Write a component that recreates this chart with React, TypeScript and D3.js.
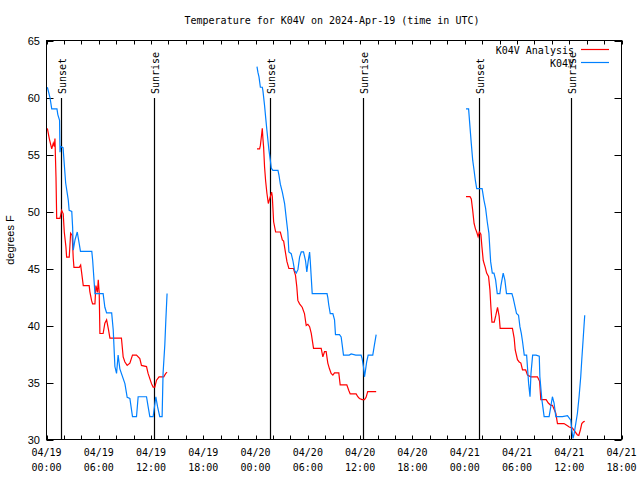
import React from "react";
import * as d3 from "d3";

const title = "Temperature for K04V on 2024-Apr-19 (time in UTC)";
const yLabel = "degrees F";
const seriesNames = ["K04V Analysis", "K04V"];
const seriesColors = ["#ff0000", "#0080ff"];
const yTicks = [30, 35, 40, 45, 50, 55, 60, 65];
const startTime = Date.UTC(2024, 3, 19, 0, 0);
const endTime = Date.UTC(2024, 3, 21, 18, 0);

// hours since 2024-04-19 00:00 UTC
const sunsetHours = [1.63, 25.66, 49.68];
const sunriseHours = [12.35, 36.3, 60.25];

// [hours since start, temperature F]
const analysisSeg1: [number, number][] = [
  [0.1, 57.3], [0.32, 56.4], [0.6, 55.5], [0.78, 56.0], [0.9, 55.7], [0.97, 56.4], [1.09, 53.0], [1.17, 49.4],
  [1.55, 49.4], [1.74, 50.1], [1.92, 49.8], [2.04, 48.2], [2.23, 46.9], [2.31, 46.0], [2.61, 46.0], [2.77, 48.1],
  [2.95, 47.9], [3.07, 45.9], [3.15, 45.1], [3.76, 45.1], [3.92, 45.3], [4.04, 44.6], [4.22, 43.5], [4.9, 43.5],
  [4.98, 42.95], [5.17, 42.2], [5.29, 41.9], [5.56, 41.9], [5.67, 43.5], [5.85, 42.9], [5.94, 44.0], [6.05, 42.9],
  [6.13, 39.3], [6.5, 39.3], [6.7, 40.2], [6.9, 40.5], [7.1, 39.7], [7.28, 38.9], [8.6, 38.9], [8.8, 37.25],
  [9.0, 36.8], [9.26, 36.5], [9.57, 36.7], [9.87, 37.4], [10.33, 37.4], [10.71, 37.1], [10.9, 36.5], [11.48, 36.4],
  [11.66, 35.8], [12.05, 34.9], [12.24, 34.6], [12.43, 34.6], [12.63, 35.2], [12.92, 35.5], [13.46, 35.5],
  [13.69, 35.8], [13.84, 35.9],
];
const analysisSeg2: [number, number][] = [
  [24.16, 55.5], [24.46, 55.5], [24.55, 55.8], [24.7, 56.8], [24.77, 57.3], [24.84, 56.4], [24.92, 55.65],
  [25.03, 53.9], [25.15, 52.7], [25.3, 51.6], [25.46, 50.7], [25.69, 51.3], [25.84, 51.7], [25.92, 51.3],
  [26.07, 49.1], [26.3, 48.2], [26.84, 48.2], [27.07, 47.5], [27.22, 47.4], [27.45, 46.3], [27.6, 45.6],
  [27.82, 45.0], [28.35, 45.0], [28.58, 44.4], [28.73, 43.4], [28.85, 42.2], [29.05, 41.9], [29.35, 41.6],
  [29.61, 41.05], [29.81, 40.0], [30.0, 40.1], [30.2, 39.9], [30.39, 39.3], [30.65, 38.0], [31.53, 38.0],
  [31.72, 37.25], [31.91, 37.7], [32.1, 37.7], [32.29, 36.7], [32.48, 36.2], [32.67, 35.8], [32.87, 35.65],
  [33.06, 35.85], [33.55, 35.85], [33.71, 34.8], [34.47, 34.8], [34.7, 34.3], [34.86, 34.0], [35.54, 34.0],
  [35.73, 33.75], [35.92, 33.6], [36.23, 33.5], [36.5, 33.5], [36.68, 33.7], [36.87, 34.2], [37.84, 34.2],
];
const analysisSeg3: [number, number][] = [
  [48.15, 51.3], [48.61, 51.3], [48.76, 51.1], [48.92, 50.1], [49.08, 48.95], [49.23, 48.5], [49.38, 48.2],
  [49.54, 47.8], [49.68, 48.2], [49.86, 48.0], [49.98, 46.9], [50.13, 45.7], [50.36, 45.1], [50.52, 44.6],
  [50.74, 44.3], [50.9, 43.1], [51.01, 41.6], [51.13, 40.3], [51.39, 40.3], [51.58, 40.9], [51.77, 41.6],
  [51.96, 40.8], [52.07, 39.75], [53.48, 39.75], [53.68, 38.9], [53.8, 37.85], [54.06, 37.0], [54.26, 36.8],
  [54.45, 36.7], [54.64, 36.1], [55.0, 36.1], [55.21, 35.65], [55.6, 35.5], [56.35, 35.5], [56.6, 35.1],
  [56.74, 33.5], [57.35, 33.5], [57.6, 33.2], [57.88, 33.0], [58.07, 33.0], [58.46, 32.3], [58.65, 31.4],
  [59.4, 31.4], [59.8, 31.2], [60.0, 31.1], [60.37, 31.0], [60.56, 30.8], [60.75, 30.6], [60.94, 30.4],
  [61.1, 30.35], [61.3, 30.9], [61.44, 31.4], [61.63, 31.55], [61.78, 31.6],
];
const observedSeg1: [number, number][] = [
  [0.1, 60.9], [0.4, 60.0], [0.6, 59.0], [1.2, 59.0], [1.3, 58.5], [1.5, 58.0], [1.55, 55.2], [1.62, 55.7],
  [1.9, 55.6], [2.2, 52.5], [2.5, 51.0], [2.6, 50.1], [2.9, 50.0], [3.0, 48.6], [3.07, 46.6], [3.27, 47.5],
  [3.53, 48.2], [3.75, 47.2], [3.9, 46.5], [5.2, 46.5], [5.3, 45.7], [5.56, 42.8], [6.5, 42.8], [6.7, 41.6],
  [6.9, 41.1], [7.48, 41.1], [7.66, 39.6], [7.85, 36.4], [8.04, 35.8], [8.22, 37.4], [8.42, 36.2], [9.0, 34.9],
  [9.26, 33.7], [9.57, 33.6], [9.87, 32.0], [10.33, 32.0], [10.52, 33.75], [11.48, 33.75], [11.66, 32.9],
  [11.86, 32.0], [12.24, 32.0], [12.55, 33.75], [12.74, 32.9], [13.0, 32.0], [13.27, 32.0], [13.38, 35.8],
  [13.58, 38.3], [13.7, 40.5], [13.84, 42.8],
];
const observedSeg2: [number, number][] = [
  [24.16, 62.7], [24.27, 62.2], [24.39, 61.8], [24.55, 60.9], [24.77, 60.9], [24.84, 60.6], [25.03, 59.3],
  [25.15, 58.3], [25.3, 57.1], [25.53, 55.4], [25.69, 54.5], [25.8, 53.8], [25.99, 53.6], [26.57, 53.6],
  [26.68, 53.2], [26.84, 52.4], [27.07, 51.7], [27.33, 50.7], [27.52, 49.4], [27.7, 48.2], [27.82, 46.45],
  [28.09, 46.3], [28.28, 45.7], [28.47, 44.85], [28.67, 44.6], [28.86, 44.9], [29.05, 46.0], [29.24, 46.45],
  [29.5, 46.45], [29.73, 45.7], [29.88, 44.7], [30.03, 45.6], [30.2, 46.45], [30.28, 45.6], [30.5, 42.8],
  [32.2, 42.8], [32.3, 42.4], [32.4, 41.8], [32.57, 41.05], [32.87, 41.05], [33.06, 40.5], [33.17, 39.2],
  [33.63, 39.2], [33.82, 39.0], [33.94, 38.3], [34.09, 37.4], [34.75, 37.4], [34.97, 37.5], [35.5, 37.4],
  [36.11, 37.4], [36.23, 37.1], [36.38, 36.4], [36.5, 35.5], [36.6, 36.0], [36.75, 36.8], [36.92, 37.4],
  [37.45, 37.4], [37.64, 38.3], [37.84, 39.2],
];
const observedSeg3: [number, number][] = [
  [48.15, 59.0], [48.45, 59.0], [48.61, 57.4], [48.76, 55.95], [48.92, 54.5], [49.08, 53.6], [49.23, 52.7],
  [49.38, 52.0], [50.0, 52.0], [50.21, 51.0], [50.4, 50.3], [50.59, 49.1], [50.78, 48.1], [50.98, 45.6],
  [51.17, 44.6], [51.36, 44.6], [51.55, 44.0], [51.74, 42.8], [52.04, 42.8], [52.16, 43.5], [52.42, 44.6],
  [52.61, 44.0], [52.8, 42.8], [53.42, 42.8], [53.57, 42.4], [53.8, 41.6], [53.95, 41.05], [54.18, 40.9],
  [54.34, 39.9], [54.5, 39.3], [54.64, 38.6], [54.84, 37.4], [55.11, 37.4], [55.22, 36.2], [55.34, 34.9],
  [55.5, 33.75], [55.61, 35.8], [55.8, 37.4], [56.19, 37.4], [56.56, 37.3], [56.63, 35.5], [56.86, 33.5],
  [57.12, 32.0], [57.69, 32.0], [57.89, 32.9], [58.07, 33.75], [58.26, 33.2], [58.46, 32.0], [59.22, 32.0],
  [59.8, 32.1], [60.18, 31.7], [60.3, 30.8], [60.44, 30.1], [60.56, 30.5], [60.75, 31.4], [60.94, 32.3],
  [61.13, 33.75], [61.32, 35.5], [61.44, 37.0], [61.59, 38.7], [61.7, 40.0], [61.78, 40.9],
];

const analysisSegments = [analysisSeg1, analysisSeg2, analysisSeg3];
const observedSegments = [observedSeg1, observedSeg2, observedSeg3];

const W = 640;
const H = 480;
const left = 46.5;
const right = 621.5;
const top = 40.5;
const bottom = 439.5;
const mono = "'DejaVu Sans Mono', monospace";
const sans = "'Liberation Sans', Arial, sans-serif";

export default function App() {
  const x = d3.scaleUtc().domain([new Date(startTime), new Date(endTime)]).range([left, right]);
  const y = d3.scaleLinear().domain([30, 65]).range([bottom, top]);
  const toDate = (h: number) => new Date(startTime + h * 3600000);
  const line = d3
    .line<[number, number]>()
    .x((d) => x(toDate(d[0])))
    .y((d) => y(d[1]));

  const minorTicks = x.ticks(d3.utcHour.every(2)!);
  const majorTicks = x.ticks(d3.utcHour.every(6)!);
  const fmtDate = d3.utcFormat("%m/%d");
  const fmtTime = d3.utcFormat("%H:%M");
  const eventTop = 98;

  const events = [
    ...sunsetHours.map((h) => ({ h, label: "Sunset" })),
    ...sunriseHours.map((h) => ({ h, label: "Sunrise" })),
  ];

  return (
    <svg width={W} height={H} style={{ position: "absolute", left: 0, top: 0, background: "#fff" }}>
      <rect x={0} y={0} width={W} height={H} fill="#fff" />
      <text x={332} y={24} textAnchor="middle" fontFamily={mono} fontSize={10} fill="#000">
        {title}
      </text>
      {/* y ticks */}
      {yTicks.map((t) => (
        <g key={t}>
          <line x1={left} x2={left + 7} y1={Math.round(y(t)) + 0.5} y2={Math.round(y(t)) + 0.5} stroke="#000" />
          <line x1={right} x2={right - 7} y1={Math.round(y(t)) + 0.5} y2={Math.round(y(t)) + 0.5} stroke="#000" />
          <text x={40} y={y(t) + 4} textAnchor="end" fontFamily={sans} fontSize={11} fill="#000">
            {t}
          </text>
        </g>
      ))}
      {/* x ticks */}
      {minorTicks.map((t, i) => (
        <g key={i}>
          <line x1={Math.round(x(t)) + 0.5} x2={Math.round(x(t)) + 0.5} y1={bottom} y2={bottom - 4} stroke="#000" />
          <line x1={Math.round(x(t)) + 0.5} x2={Math.round(x(t)) + 0.5} y1={top} y2={top + 4} stroke="#000" />
        </g>
      ))}
      {majorTicks.map((t, i) => (
        <g key={"m" + i} fontFamily={mono} fontSize={10} fill="#000">
          <text x={x(t)} y={456} textAnchor="middle">
            {fmtDate(t)}
          </text>
          <text x={x(t)} y={471} textAnchor="middle">
            {fmtTime(t)}
          </text>
        </g>
      ))}
      <text
        transform={`translate(14,${(top + bottom) / 2}) rotate(-90)`}
        textAnchor="middle"
        fontFamily={sans}
        fontSize={11}
        fill="#000"
      >
        {yLabel}
      </text>
      {/* sunrise / sunset */}
      {events.map((e, i) => {
        const px = Math.round(x(toDate(e.h))) + 0.5;
        return (
          <g key={"e" + i}>
            <line x1={px} x2={px} y1={eventTop} y2={bottom} stroke="#000" strokeWidth={1.2} />
            <text
              transform={`translate(${px + 4},${eventTop - 4}) rotate(-90)`}
              fontFamily={mono}
              fontSize={10}
              fill="#000"
            >
              {e.label}
            </text>
          </g>
        );
      })}
      {/* series */}
      {analysisSegments.map((seg, i) => (
        <path key={"a" + i} d={line(seg) || ""} fill="none" stroke={seriesColors[0]} strokeWidth={1.2} />
      ))}
      {observedSegments.map((seg, i) => (
        <path key={"o" + i} d={line(seg) || ""} fill="none" stroke={seriesColors[1]} strokeWidth={1.2} />
      ))}
      {/* legend */}
      {seriesNames.map((n, i) => (
        <g key={"l" + i}>
          <text x={574} y={54 + i * 13} textAnchor="end" fontFamily={mono} fontSize={10} fill="#000">
            {n}
          </text>
          <line x1={581} x2={609} y1={49.5 + i * 13} y2={49.5 + i * 13} stroke={seriesColors[i]} strokeWidth={1.2} />
        </g>
      ))}
      {/* frame */}
      <rect x={left} y={top} width={right - left} height={bottom - top} fill="none" stroke="#000" />
    </svg>
  );
}
